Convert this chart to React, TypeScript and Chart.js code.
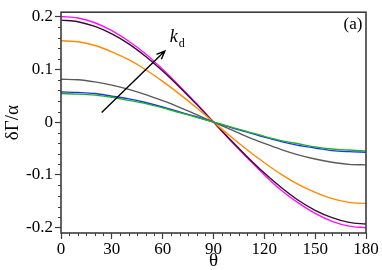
import React, { useEffect, useRef } from "react";
import { Chart, registerables } from "chart.js";

Chart.register(...registerables);

const theta = [0, 10, 20, 30, 40, 50, 60, 70, 80, 90, 100, 110, 120, 130, 140, 150, 160, 170, 180];

const magentaVals = [0.200, 0.197, 0.188, 0.173, 0.153, 0.129, 0.100, 0.068, 0.035, 0, -0.035, -0.068, -0.100, -0.129, -0.153, -0.173, -0.188, -0.197, -0.200];
const blackVals = [0.193, 0.190, 0.181, 0.167, 0.148, 0.124, 0.0965, 0.066, 0.0335, 0, -0.0335, -0.066, -0.0965, -0.124, -0.148, -0.167, -0.181, -0.190, -0.193];
const orangeVals = [0.154, 0.152, 0.145, 0.133, 0.118, 0.099, 0.077, 0.053, 0.027, 0, -0.027, -0.053, -0.077, -0.099, -0.118, -0.133, -0.145, -0.152, -0.154];
const grayVals = [0.081, 0.080, 0.076, 0.070, 0.062, 0.052, 0.0405, 0.028, 0.014, 0, -0.014, -0.028, -0.0405, -0.052, -0.062, -0.070, -0.076, -0.080, -0.081];
const blueVals = [0.057, 0.056, 0.054, 0.049, 0.044, 0.037, 0.0285, 0.019, 0.010, 0, -0.010, -0.019, -0.0285, -0.037, -0.044, -0.049, -0.054, -0.056, -0.057];
const greenVals = [0.054, 0.053, 0.051, 0.047, 0.041, 0.035, 0.027, 0.018, 0.009, 0, -0.009, -0.018, -0.027, -0.035, -0.041, -0.047, -0.051, -0.053, -0.0545];

const xTicks = [0, 30, 60, 90, 120, 150, 180];
const xMinorTicks = [5, 10, 15, 20, 25, 35, 40, 45, 50, 55, 65, 70, 75, 80, 85, 95, 100, 105, 110, 115, 125, 130, 135, 140, 145, 155, 160, 165, 170, 175];
const yTicks = [-0.2, -0.1, 0, 0.1, 0.2];
const yTickLabels = ["-0.2", "-0.1", "0", "0.1", "0.2"];
const yMinorTicks = [-0.18, -0.16, -0.14, -0.12, -0.08, -0.06, -0.04, -0.02, 0.02, 0.04, 0.06, 0.08, 0.12, 0.14, 0.16, 0.18];

const arrowStart = { x: 24, y: 0.018 };
const arrowEnd = { x: 61.3, y: 0.1345 };
const kLabelPos = { x: 66.5, y: 0.16 };

const FONT = "'Liberation Serif', 'DejaVu Serif', serif";
const AXIS_COLOR = "#3c3c3c";

const overlayPlugin = {
  id: "overlay",
  afterDraw(chart: any) {
    const { ctx, chartArea: a, scales } = chart;
    const xs = scales.x;
    const ys = scales.y;
    ctx.save();
    // minor ticks
    ctx.strokeStyle = AXIS_COLOR;
    ctx.lineWidth = 1;
    ctx.beginPath();
    xMinorTicks.forEach((v) => {
      const px = Math.round(xs.getPixelForValue(v)) + 0.5;
      ctx.moveTo(px, a.bottom);
      ctx.lineTo(px, a.bottom + 3);
    });
    yMinorTicks.forEach((v) => {
      const py = Math.round(ys.getPixelForValue(v)) + 0.5;
      ctx.moveTo(a.left, py);
      ctx.lineTo(a.left - 3, py);
    });
    ctx.stroke();
    // frame
    ctx.lineWidth = 1.6;
    ctx.strokeStyle = AXIS_COLOR;
    ctx.strokeRect(a.left, a.top, a.right - a.left, a.bottom - a.top);

    // arrow
    const x0 = xs.getPixelForValue(arrowStart.x);
    const y0 = ys.getPixelForValue(arrowStart.y);
    const x1 = xs.getPixelForValue(arrowEnd.x);
    const y1 = ys.getPixelForValue(arrowEnd.y);
    ctx.strokeStyle = "#000";
    ctx.lineWidth = 1.4;
    ctx.beginPath();
    ctx.moveTo(x0, y0);
    ctx.lineTo(x1, y1);
    const ang = Math.atan2(y1 - y0, x1 - x0);
    const hl = 9;
    ctx.moveTo(x1 - hl * Math.cos(ang - 0.4), y1 - hl * Math.sin(ang - 0.4));
    ctx.lineTo(x1, y1);
    ctx.lineTo(x1 - hl * Math.cos(ang + 0.4), y1 - hl * Math.sin(ang + 0.4));
    ctx.stroke();

    // k_d label
    ctx.fillStyle = "#000";
    const kx = xs.getPixelForValue(kLabelPos.x);
    const ky = ys.getPixelForValue(kLabelPos.y);
    ctx.font = `italic 18px ${FONT}`;
    ctx.textAlign = "center";
    ctx.textBaseline = "middle";
    ctx.fillText("k", kx, ky);
    ctx.font = `12px ${FONT}`;
    ctx.textAlign = "left";
    ctx.fillText("d", kx + 5, ky + 6);

    // (a)
    ctx.font = `17px ${FONT}`;
    ctx.textAlign = "center";
    ctx.fillText("(a)", a.right - 13, a.top + 12);

    // axis titles
    ctx.font = `19px ${FONT}`;
    ctx.fillText("θ", (a.left + a.right) / 2, 261);
    ctx.translate(13, (a.top + a.bottom) / 2);
    ctx.rotate(-Math.PI / 2);
    ctx.fillText("δΓ/α", 0, 0);
    ctx.restore();
  },
};

export default function App() {
  const ref = useRef<HTMLCanvasElement | null>(null);
  useEffect(() => {
    if (!ref.current) return;
    const mk = (vals: number[], color: string, width = 1.4) => ({
      data: theta.map((t, i) => ({ x: t, y: vals[i] })),
      borderColor: color,
      borderWidth: width,
      pointRadius: 0,
      fill: false,
      cubicInterpolationMode: "monotone" as const,
    });
    const chart = new Chart(ref.current, {
      type: "line",
      data: {
        datasets: [
          mk(greenVals, "#1fb31f"),
          mk(blueVals, "#1f2fff"),
          mk(grayVals, "#5a5a5a"),
          mk(orangeVals, "#ff8a00"),
          mk(blackVals, "#3a0a32"),
          mk(magentaVals, "#ff10ff"),
        ],
      },
      options: {
        animation: false,
        responsive: false,
        maintainAspectRatio: false,
        layout: { padding: { top: 3, right: 16, left: 0, bottom: 0 } },
        plugins: { legend: { display: false }, tooltip: { enabled: false } },
        scales: {
          x: {
            type: "linear",
            min: 0,
            max: 180,
            afterBuildTicks: (s: any) => {
              s.ticks = xTicks.map((v) => ({ value: v }));
            },
            afterFit: (s: any) => {
              s.height = 37;
            },
            ticks: {
              font: { family: FONT, size: 17 },
              color: "#000",
              padding: 0,
              maxRotation: 0,
              autoSkip: false,
              callback: (v: any) => String(v),
            },
            grid: { drawOnChartArea: false, drawTicks: true, tickLength: 6, color: AXIS_COLOR, tickWidth: 1.2 },
            border: { display: false },
          },
          y: {
            type: "linear",
            min: -0.21,
            max: 0.208,
            afterBuildTicks: (s: any) => {
              s.ticks = yTicks.map((v) => ({ value: v }));
            },
            afterFit: (s: any) => {
              s.width = 61;
            },
            ticks: {
              font: { family: FONT, size: 17 },
              color: "#000",
              padding: 2,
              autoSkip: false,
              callback: (v: any) => {
                const i = yTicks.findIndex((t) => Math.abs(t - v) < 1e-9);
                return i >= 0 ? yTickLabels[i] : "";
              },
            },
            grid: { drawOnChartArea: false, drawTicks: true, tickLength: 6, color: AXIS_COLOR, tickWidth: 1.2 },
            border: { display: false },
          },
        },
      },
      plugins: [overlayPlugin],
    });
    return () => chart.destroy();
  }, []);
  return (
    <div style={{ position: "fixed", left: 0, top: 0, width: 382, height: 270, background: "#fff" }}>
      <canvas ref={ref} width={382} height={270} style={{ width: 382, height: 270, display: "block" }} />
    </div>
  );
}
